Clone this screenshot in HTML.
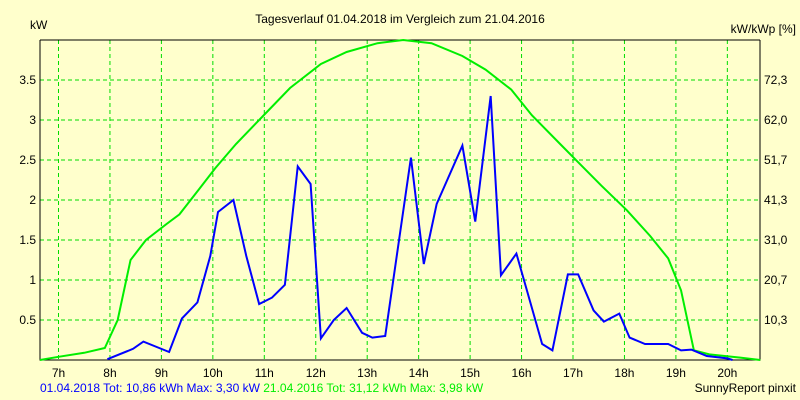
<!DOCTYPE html>
<html><head><meta charset="utf-8"><style>
html,body{margin:0;padding:0;background:#ffffcc;}
svg{display:block;font-family:"Liberation Sans",sans-serif;font-size:12px;}
</style></head><body>
<svg id="chart" width="800" height="400">
<rect x="0" y="0" width="800" height="400" fill="#ffffcc"/>
<text x="400" y="23" text-anchor="middle" fill="#000">Tagesverlauf 01.04.2018 im Vergleich zum 21.04.2016</text>
<text x="30" y="29" fill="#000">kW</text>
<text x="796" y="33" text-anchor="end" fill="#000">kW/kWp [%]</text>
<g id="grid"></g>
<g id="axes"></g>
<g id="series"></g>
<text x="40" y="392" fill="#0000ff">01.04.2018 Tot: 10,86 kWh Max: 3,30 kW <tspan fill="#00ee00">21.04.2016 Tot: 31,12 kWh Max: 3,98 kW</tspan></text>
<text x="796" y="392" text-anchor="end" fill="#000">SunnyReport pinxit</text>
</svg>
<script>
const hourTicks = [7,8,9,10,11,12,13,14,15,16,17,18,19,20];
const kwTicks = [0.5,1,1.5,2,2.5,3,3.5];
const kwTickLabels = ["0.5","1","1.5","2","2.5","3","3.5"];
const pctTickLabels = ["10,3","20,7","31,0","41,3","51,7","62,0","72,3"];
const blueTimes = [7.95,8.45,8.65,9.15,9.4,9.7,9.95,10.1,10.4,10.65,10.9,11.15,11.4,11.65,11.9,12.1,12.35,12.6,12.9,13.1,13.35,13.85,14.1,14.35,14.85,15.1,15.4,15.6,15.9,16.1,16.4,16.6,16.9,17.1,17.4,17.6,17.9,18.1,18.4,18.85,19.1,19.3,19.6,20.0,20.1];
const blueValues = [0.01,0.14,0.23,0.1,0.52,0.72,1.3,1.85,2.0,1.3,0.7,0.78,0.94,2.42,2.2,0.27,0.5,0.65,0.34,0.28,0.3,2.53,1.2,1.95,2.68,1.73,3.3,1.06,1.33,0.88,0.2,0.12,1.07,1.07,0.62,0.48,0.58,0.28,0.2,0.2,0.12,0.13,0.05,0.02,0.0];
const greenTimes = [6.64,7.0,7.5,7.9,8.15,8.4,8.7,9.1,9.35,9.75,10.05,10.45,11.05,11.5,12.1,12.6,13.2,13.7,14.25,14.85,15.3,15.8,16.2,16.75,17.15,17.55,18.05,18.5,18.85,19.1,19.35,19.65,20.25,20.64];
const greenValues = [0,0.04,0.09,0.15,0.5,1.25,1.5,1.7,1.82,2.15,2.4,2.7,3.1,3.4,3.7,3.85,3.96,4.0,3.96,3.8,3.63,3.38,3.06,2.7,2.44,2.18,1.87,1.55,1.27,0.87,0.12,0.07,0.03,0];
const X0=40,X1=760,Y0=360,Y1=40;
const x=h=>58.5+(h-7)*51.45;
const y=v=>Y0-v*80;
const NS="http://www.w3.org/2000/svg";
function mk(tag,parent,attrs){const e=document.createElementNS(NS,tag);for(const k in attrs)e.setAttribute(k,attrs[k]);parent.appendChild(e);return e;}
const grid=document.getElementById('grid'),axes=document.getElementById('axes'),series=document.getElementById('series');
hourTicks.forEach(h=>{
  const l=mk('line',grid,{x1:x(h),x2:x(h),y1:Y1,y2:Y0,stroke:'#00dd00','stroke-dasharray':'4,3'});
  
  
  const t=mk('text',axes,{x:x(h),y:377,'text-anchor':'middle',fill:'#000'});t.textContent=h+'h';
  
  
});
kwTicks.forEach((v,i)=>{
  const l=mk('line',grid,{x1:X0,x2:X1,y1:y(v),y2:y(v),stroke:'#00dd00','stroke-dasharray':'4,3'});
  
  
  const t=mk('text',axes,{x:36,y:y(v)+4,'text-anchor':'end',fill:'#000'});t.textContent=kwTickLabels[i];
  
  
  const t2=mk('text',axes,{x:764,y:y(v)+4,fill:'#000'});t2.textContent=pctTickLabels[i];
  
  
});
const fr=mk('path',axes,{d:`M${X0},${Y1}V${Y0}H${X1}V${Y1}`,fill:'none',stroke:'#000','stroke-width':1});


const tl=mk('line',axes,{x1:X0,x2:X1,y1:Y1,y2:Y1,stroke:'#000'});


const g=mk('polyline',series,{points:greenTimes.map((t,i)=>x(t)+','+y(greenValues[i])).join(' '),fill:'none',stroke:'#00ee00','stroke-width':2});


const b=mk('polyline',series,{points:blueTimes.map((t,i)=>x(t)+','+y(blueValues[i])).join(' '),fill:'none',stroke:'#0000ff','stroke-width':2});


</script>
</body></html>
